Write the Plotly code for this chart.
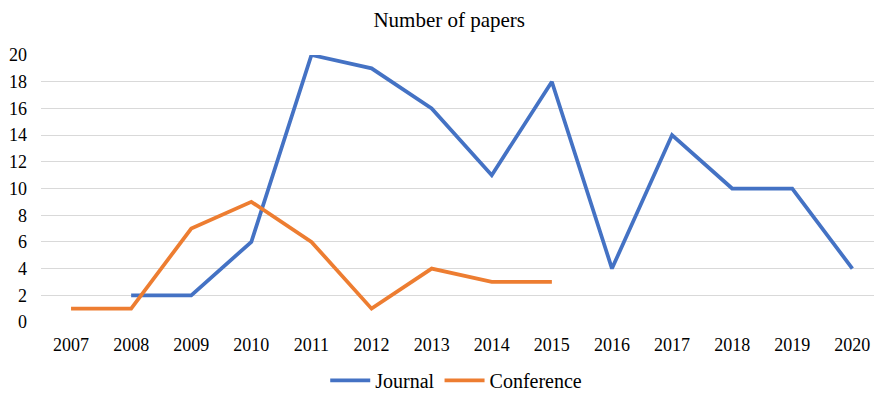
import plotly.graph_objects as go

years = ["2007", "2008", "2009", "2010", "2011", "2012", "2013",
         "2014", "2015", "2016", "2017", "2018", "2019", "2020"]
journal = [None, 2, 2, 6, 20, 19, 16, 11, 18, 4, 14, 10, 10, 4]
conference = [1, 1, 7, 9, 6, 1, 4, 3, 3, None, None, None, None, None]

font_family = "Liberation Serif, Times New Roman, serif"

fig = go.Figure()
fig.add_trace(go.Scatter(x=years, y=journal, mode="lines", name="Journal",
                         line=dict(color="#4472C4", width=3.75), connectgaps=False))
fig.add_trace(go.Scatter(x=years, y=conference, mode="lines", name="Conference",
                         line=dict(color="#ED7D31", width=3.75), connectgaps=False))

fig.update_layout(
    width=874, height=393,
    margin=dict(l=41, r=0, t=55, b=71),
    paper_bgcolor="white", plot_bgcolor="white",
    font=dict(family=font_family, size=18, color="#000000"),
    title=dict(text="Number of papers", x=0.514, xref="container", xanchor="center",
               y=0.950, yref="container", yanchor="middle",
               font=dict(family=font_family, size=21, color="#000000")),
    showlegend=True,
    legend=dict(orientation="h", x=0.522, xanchor="center", xref="container",
                y=0.032, yref="container", yanchor="middle",
                font=dict(family=font_family, size=20, color="#000000"),
                itemwidth=40, tracegroupgap=0),
    xaxis=dict(type="category", range=[-0.5, 13.36], showgrid=False,
               showline=False, zeroline=False, ticks="", ticklabelstandoff=10,
               tickfont=dict(family=font_family, size=18)),
    yaxis=dict(range=[0, 20], dtick=2, showgrid=True, gridcolor="#D9D9D9",
               gridwidth=1, zeroline=False, showline=False, ticks="",
               ticklabelstandoff=13,
               tickfont=dict(family=font_family, size=18)),
)

fig.write_html("out.html")
